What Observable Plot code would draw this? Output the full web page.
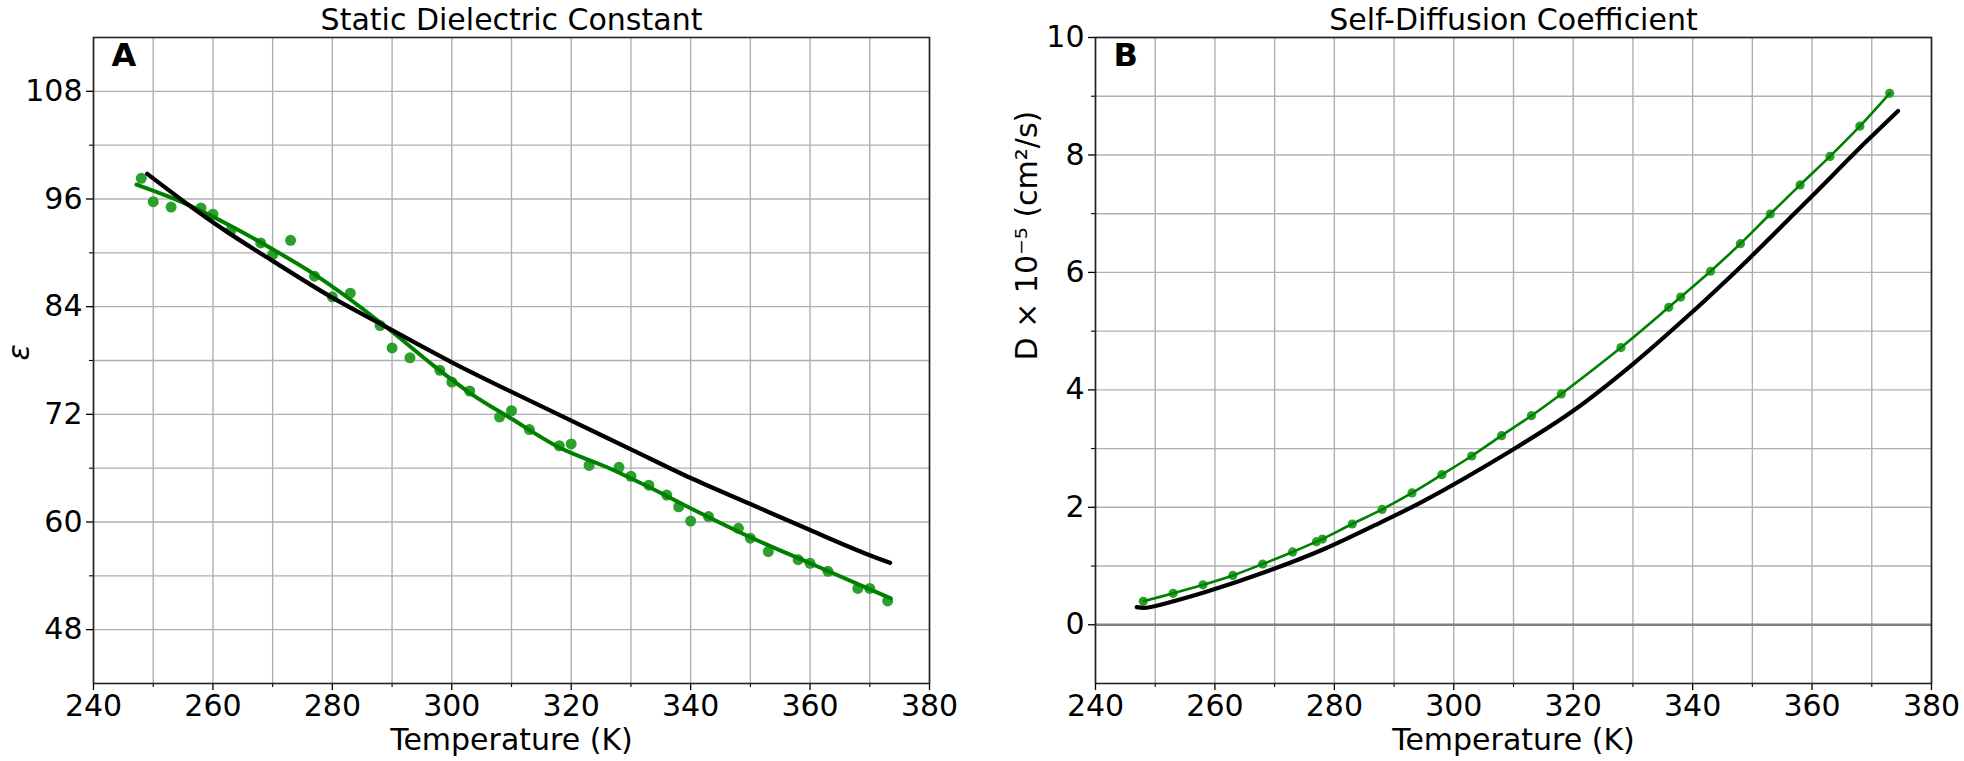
<!DOCTYPE html>
<html>
<head>
<meta charset="utf-8">
<script src="https://cdn.jsdelivr.net/npm/d3@7"></script>
<script src="https://cdn.jsdelivr.net/npm/@observablehq/plot@0.6"></script>
<style>
  html, body { margin: 0; padding: 0; background: white; }
  #wrap { display: flex; width: 1964px; height: 761px; background: white; }
</style>
</head>
<body>
<div id="wrap"></div>
<script>
// ---------- Panel A: Static Dielectric Constant ----------
const tempA = [248, 250, 253, 258, 260, 263, 268, 270, 273, 277, 280, 283, 288, 290, 293, 298, 300, 303, 308, 310, 313, 318, 320, 323, 328, 330, 333, 336, 338, 340, 343, 348, 350, 353, 358, 360, 363, 368, 370, 373];
const epsA = [98.3, 95.7, 95.1, 95.0, 94.3, 92.5, 91.1, 89.8, 91.4, 87.4, 85.1, 85.5, 81.9, 79.4, 78.3, 76.9, 75.6, 74.6, 71.7, 72.4, 70.3, 68.5, 68.7, 66.3, 66.1, 65.1, 64.1, 63.0, 61.7, 60.1, 60.6, 59.3, 58.2, 56.7, 55.8, 55.4, 54.5, 52.6, 52.6, 51.2];

const fitTempA = [247.2, 255, 263, 270, 277, 283, 290, 297, 303, 310, 318, 326, 333, 341, 350, 360, 373.5];
const fitEpsA = [97.6, 95.6, 93.0, 90.4, 87.6, 84.8, 81.2, 77.4, 74.4, 71.5, 68.3, 66.1, 63.9, 61.2, 58.3, 55.4, 51.5];

const modelTempA = [249, 255.7, 262, 270, 280, 288, 300, 310, 320, 330, 340, 350, 360, 370, 373.4];
const modelEpsA = [98.8, 95.45, 92.5, 89.1, 85.0, 82.1, 77.8, 74.5, 71.3, 68.1, 64.9, 62.0, 59.1, 56.3, 55.45];

// ---------- Panel B: Self-Diffusion Coefficient ----------
const tempB = [248, 253, 258, 263, 268, 273, 277, 278, 283, 288, 293, 298, 303, 308, 313, 318, 328, 336, 338, 343, 348, 353, 358, 363, 368, 373];
const diffB = [0.40, 0.535, 0.68, 0.84, 1.035, 1.24, 1.415, 1.46, 1.716, 1.965, 2.245, 2.556, 2.874, 3.22, 3.56, 3.93, 4.72, 5.405, 5.58, 6.02, 6.49, 6.995, 7.49, 7.975, 8.49, 9.05];

const modelTempB = [246.9, 248.5, 253.4, 258.3, 268.3, 278.3, 288.3, 295, 310, 320, 330, 340.2, 344.7, 349.1, 359.2, 369.2, 374.4];
const modelDiffB = [0.30, 0.29, 0.41, 0.552, 0.893, 1.29, 1.77, 2.11, 2.99, 3.645, 4.44, 5.35, 5.774, 6.2, 7.22, 8.24, 8.75];

// ---------- Ticks ----------
const xMajor = [240, 260, 280, 300, 320, 340, 360, 380];
const xMinor = [250, 270, 290, 310, 330, 350, 370];
const yMajorA = [48, 60, 72, 84, 96, 108];
const yMinorA = [54, 66, 78, 90, 102];
const yMajorB = [0, 2, 4, 6, 8, 10];
const yMinorB = [1, 3, 5, 7, 9];

const titleA = "Static Dielectric Constant";
const titleB = "Self-Diffusion Coefficient";
const xLabel = "Temperature (K)";
const yLabelA = "ε";
const yLabelB = "D × 10⁻⁵ (cm²/s)";

// ---------- Tables ----------
const ptsA = tempA.map((t, i) => ({T: t, v: epsA[i]}));
const fitA = fitTempA.map((t, i) => ({T: t, v: fitEpsA[i]}));
const modA = modelTempA.map((t, i) => ({T: t, v: modelEpsA[i]}));
const ptsB = tempB.map((t, i) => ({T: t, v: diffB[i]}));
const modB = modelTempB.map((t, i) => ({T: t, v: modelDiffB[i]}));

const FONT = "DejaVu Sans";
const GRID = "#b0b0b0";
const FS = 30;

function commonMarks(yMajor, yMinor, title, letter, yLabel, yLabelDx) {
  return {
    before: [
      Plot.gridX([...xMajor, ...xMinor], {stroke: GRID, strokeOpacity: 1, strokeWidth: 1.4}),
      Plot.gridY([...yMajor, ...yMinor], {stroke: GRID, strokeOpacity: 1, strokeWidth: 1.4})
    ],
    after: [
      Plot.axisX(xMajor, {tickSize: 7, tickPadding: 4, fontSize: FS, label: null, strokeWidth: 1.3, tickFormat: d => String(d)}),
      Plot.axisX(xMinor, {tickSize: 4, text: null, label: null, strokeWidth: 1.1}),
      Plot.axisY(yMajor, {tickSize: 7, tickPadding: 4, fontSize: FS, label: null, strokeWidth: 1.3, tickFormat: d => String(d)}),
      Plot.axisY(yMinor, {tickSize: 4, text: null, label: null, strokeWidth: 1.1}),
      Plot.frame({stroke: "#222", strokeWidth: 1.6}),
      Plot.text([title], {text: d => d, frameAnchor: "top", dy: -8, lineAnchor: "bottom", fontSize: FS}),
      Plot.text([letter], {text: d => d, frameAnchor: "top-left", dx: 18, dy: 6, lineAnchor: "top", textAnchor: "start", fontWeight: "bold", fontSize: 32}),
      Plot.text([xLabel], {text: d => d, frameAnchor: "bottom", dy: 66, lineAnchor: "bottom", fontSize: FS}),
      Plot.text([yLabel], {text: d => d, frameAnchor: "left", dx: yLabelDx, rotate: -90, fontSize: FS,
        fontStyle: letter === "A" ? "italic" : "normal"})
    ]
  };
}

const cA = commonMarks(yMajorA, yMinorA, titleA, "A", yLabelA, -74);
const svgA = Plot.plot({
  width: 982, height: 761,
  marginTop: 37, marginBottom: 78, marginLeft: 93, marginRight: 53,
  style: {fontFamily: FONT, fontSize: FS + "px", background: "white", color: "black", overflow: "visible"},
  x: {domain: [240, 380], label: null},
  y: {domain: [42, 114], label: null},
  marks: [
    ...cA.before,
    Plot.dot(ptsA, {x: "T", y: "v", r: 5.5, fill: "#2ca02c"}),
    Plot.line(fitA, {x: "T", y: "v", stroke: "#008000", strokeWidth: 4, curve: "monotone-x"}),
    Plot.line(modA, {x: "T", y: "v", stroke: "black", strokeWidth: 4.3, curve: "monotone-x"}),
    ...cA.after
  ]
});

const cB = commonMarks(yMajorB, yMinorB, titleB, "B", yLabelB, -68);
const svgB = Plot.plot({
  width: 982, height: 761,
  marginTop: 37, marginBottom: 78, marginLeft: 113, marginRight: 33,
  style: {fontFamily: FONT, fontSize: FS + "px", background: "white", color: "black", overflow: "visible"},
  x: {domain: [240, 380], label: null},
  y: {domain: [-1, 10], label: null},
  marks: [
    ...cB.before,
    Plot.ruleY([0], {stroke: "#808080", strokeWidth: 2.5}),
    Plot.dot(ptsB, {x: "T", y: "v", r: 4.6, fill: "#2ca02c"}),
    Plot.line(ptsB, {x: "T", y: "v", stroke: "#008000", strokeWidth: 2.6, curve: "catmull-rom"}),
    Plot.line(modB, {x: "T", y: "v", stroke: "black", strokeWidth: 4.2, curve: "catmull-rom"}),
    ...cB.after
  ]
});

const wrap = document.getElementById("wrap");
wrap.appendChild(svgA);
wrap.appendChild(svgB);
</script>
</body>
</html>
